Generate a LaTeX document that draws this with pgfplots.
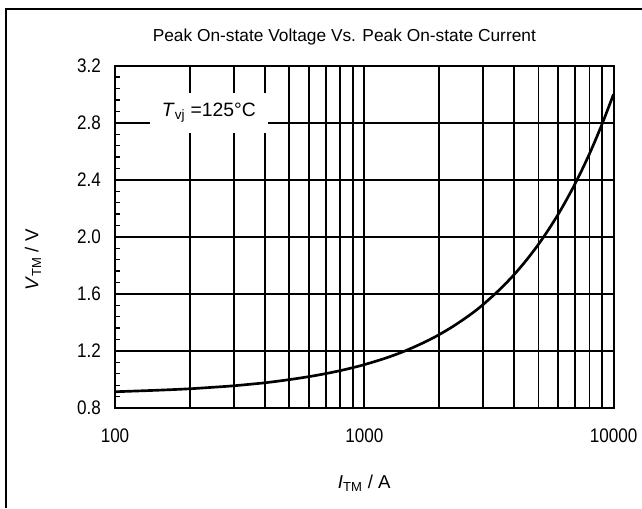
\documentclass[border=0pt]{standalone}
\usepackage{fontspec}
\setmainfont{Liberation Sans}
\usepackage{graphicx}
\usepackage{pgfplots}
\pgfplotsset{compat=1.18}

% peak on-state voltage vs current, Tvj = 125 C
\pgfplotstableread{
I      V
100    0.914
150    0.925
200    0.935
250    0.946
300    0.956
400    0.977
500    0.999
600    1.020
700    1.041
800    1.062
900    1.083
1000   1.104
1200   1.146
1400   1.188
1600   1.231
1800   1.273
2000   1.315
2250   1.368
2500   1.421
2750   1.473
3000   1.526
3500   1.632
4000   1.737
4500   1.843
5000   1.948
5500   2.054
6000   2.159
6500   2.265
7000   2.370
7500   2.476
8000   2.581
8500   2.687
9000   2.792
9500   2.898
10000  3.000
}\vtmdata

\newcommand{\tl}[1]{\scalebox{1}[1.15]{#1}}

\begin{document}
\begin{tikzpicture}
\useasboundingbox (0,0) rectangle (481.5pt,381pt);
% outer frame (only left and top edges show)
\draw[line width=1.5pt] (4.5pt,0) -- (4.5pt,374.5pt) -- (481.5pt,374.5pt);

\begin{axis}[
    at={(86.25pt,75pt)}, anchor=south west,
    scale only axis,
    width=373.9pt, height=256.7pt,
    xmode=log,
    xmin=100, xmax=10000,
    ymin=0.8, ymax=3.2,
    xtick={100,1000,10000},
    xticklabels={\tl{100},\tl{1000},\tl{10000}},
    ytick={0.8,1.2,1.6,2.0,2.4,2.8,3.2},
    yticklabels={\tl{0.8},\tl{1.2},\tl{1.6},\tl{2.0},\tl{2.4},\tl{2.8},\tl{3.2}},
    minor ytick={0.88,0.96,1.04,1.12,1.28,1.36,1.44,1.52,1.68,1.76,1.84,1.92,2.08,2.16,2.24,2.32,2.48,2.56,2.64,2.72,2.88,2.96,3.04,3.12},
    xmajorgrids, xminorgrids, ymajorgrids,
    grid style={black, line width=1.3pt},
    minor grid style={black, line width=1.3pt},
    axis line style={line width=1.5pt},
    tick align=inside,
    xtick pos=bottom, ytick pos=left,
    major tick length=0pt,
    minor tick length=3.8pt,
    every tick/.style={black, line width=1pt},
    ticklabel style={font=\fontsize{12.8}{14}\selectfont},
    xticklabel style={yshift=-12pt},
    yticklabel style={xshift=-7pt},
    every axis title shift=0pt,
    title={Peak On-state Voltage Vs. Peak On-state Current},
    title style={font=\fontsize{13}{15}\selectfont, at={(axis description cs:0.46,1.084)}, anchor=center},
    xlabel={\textit{I}\textsubscript{TM} / A},
    ylabel={\textit{V}\textsubscript{TM} / V},
    label style={font=\fontsize{14}{16}\selectfont},
    xlabel style={at={(axis description cs:0.5,-0.219)}, anchor=center},
    ylabel style={at={(axis description cs:-0.1645,0.432)}, anchor=center, rotate=0},
]
\addplot[black, line width=2pt, smooth] table[x=I, y=V] {\vtmdata};
\node[fill=white, inner sep=0pt, minimum width=88.5pt, minimum height=30pt,
      font=\fontsize{14.5}{16}\selectfont]
    at (axis cs:238,2.869) {\textit{T}\textsubscript{vj} =125°C};
\end{axis}
\end{tikzpicture}
\end{document}
